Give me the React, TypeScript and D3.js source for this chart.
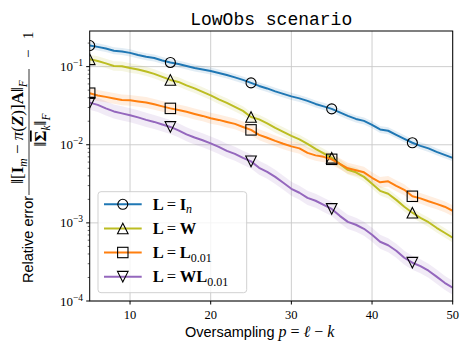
import React from 'react';
import * as d3 from 'd3';

// oversampling p = l - k
const oversampling = d3.range(5, 51);

// relative error, one value per p (5..50)
const errIn = [0.186, 0.179, 0.171, 0.160, 0.156, 0.150, 0.141, 0.134, 0.129, 0.120,
  0.113, 0.108, 0.102, 0.0962, 0.0921, 0.0881, 0.0830, 0.0783, 0.0728, 0.0676,
  0.0619, 0.0566, 0.0526, 0.0482, 0.0448, 0.0416, 0.0392, 0.0364, 0.0333, 0.0310,
  0.0288, 0.0259, 0.0234, 0.0214, 0.0202, 0.0180, 0.0157, 0.0151, 0.0134, 0.0119,
  0.0106, 0.00968, 0.00899, 0.00811, 0.00743, 0.00680];
const errW = [0.124, 0.118, 0.110, 0.102, 0.101, 0.0962, 0.0921, 0.0868, 0.0807, 0.0738,
  0.0676, 0.0637, 0.0575, 0.0526, 0.0475, 0.0428, 0.0381, 0.0343, 0.0305, 0.0271,
  0.0227, 0.0211, 0.0188, 0.0164, 0.0146, 0.0130, 0.0117, 0.01027, 0.00887, 0.00776,
  0.00680, 0.00570, 0.00477, 0.00444, 0.00388, 0.00316, 0.00257, 0.00236, 0.00197, 0.00161,
  0.00135, 0.00116, 0.00102, 0.000865, 0.000747, 0.000645];
const errL = [0.0457, 0.0428, 0.0410, 0.0392, 0.0375, 0.0370, 0.0359, 0.0348, 0.0329, 0.0310,
  0.0292, 0.0279, 0.0264, 0.0248, 0.0234, 0.0218, 0.0208, 0.0196, 0.0185, 0.0169,
  0.0155, 0.0134, 0.0123, 0.0112, 0.0103, 0.00954, 0.00899, 0.00788, 0.00731, 0.00700,
  0.00651, 0.00570, 0.00499, 0.00471, 0.00444, 0.00378, 0.00330, 0.00340, 0.00298, 0.00265,
  0.00219, 0.00206, 0.00189, 0.00175, 0.00161, 0.00143];
const errWL = [0.0346, 0.0324, 0.0292, 0.0267, 0.0252, 0.0238, 0.0224, 0.0208, 0.0196, 0.0182,
  0.0169, 0.0153, 0.0136, 0.0124, 0.0114, 0.0104, 0.00940, 0.00836, 0.00765, 0.00680,
  0.00613, 0.00507, 0.00450, 0.00388, 0.00326, 0.00273, 0.00243, 0.00209, 0.00192, 0.00170,
  0.00151, 0.00123, 0.00103, 0.000946, 0.000840, 0.000705, 0.000573, 0.000517, 0.000440, 0.000358,
  0.000309, 0.000279, 0.000244, 0.000205, 0.000171, 0.000148];

// half width of the shaded band, in decades
const spreads = [0.045, 0.06, 0.07, 0.09];

const markerAt = [5, 15, 25, 35, 45];
const xTicks = [10, 20, 30, 40, 50];
const yExps = [-4, -3, -2, -1];

const series = [
  { key: 'In', values: errIn, color: '#1f77b4', marker: 'circle', spread: spreads[0] },
  { key: 'W', values: errW, color: '#bcbd22', marker: 'up', spread: spreads[1] },
  { key: 'L', values: errL, color: '#ff7f0e', marker: 'square', spread: spreads[2] },
  { key: 'WL', values: errWL, color: '#9467bd', marker: 'down', spread: spreads[3] },
];

const W = 467, H = 349;
const left = 89.7, right = 452.7, top = 31, bottom = 301;

const serif = '"Liberation Serif", "DejaVu Serif", serif';
const sans = '"Liberation Sans", "DejaVu Sans", sans-serif';

const x = d3.scaleLinear().domain([5, 50]).range([left, right]);
const y = d3.scaleLog().domain([1e-4, Math.pow(10, -0.544)]).range([bottom, top]);

function Marker({ kind, cx, cy }: { kind: string; cx: number; cy: number }) {
  const s = 5.3;
  const st = { fill: 'none', stroke: '#000', strokeWidth: 1.1 };
  if (kind === 'circle') return <circle cx={cx} cy={cy} r={5} {...st} />;
  if (kind === 'square') return <rect x={cx - 5.2} y={cy - 5.2} width={10.4} height={10.4} {...st} />;
  if (kind === 'up') return <path d={`M${cx},${cy - s}L${cx - s},${cy + s}L${cx + s},${cy + s}Z`} {...st} />;
  return <path d={`M${cx},${cy + s}L${cx - s},${cy - s}L${cx + s},${cy - s}Z`} {...st} />;
}

function LegendLabel({ k, tx, ty }: { k: string; tx: number; ty: number }) {
  const fs = 16.5;
  const sub = { fontSize: 12, fontWeight: 'normal' as const };
  let rhs: React.ReactNode = null;
  if (k === 'In') rhs = (<><tspan fontWeight="bold">I</tspan><tspan dy={3.5} {...sub} fontStyle="italic">n</tspan></>);
  if (k === 'W') rhs = <tspan fontWeight="bold">W</tspan>;
  if (k === 'L') rhs = (<><tspan fontWeight="bold">L</tspan><tspan dy={3.5} {...sub}>0.01</tspan></>);
  if (k === 'WL') rhs = (<><tspan fontWeight="bold">WL</tspan><tspan dy={3.5} {...sub}>0.01</tspan></>);
  return (
    <g fontFamily={serif} fontSize={fs} fill="#000">
      <text x={tx} y={ty} fontWeight="bold">L</text>
      <text x={tx + 14} y={ty}>=</text>
      <text x={tx + 27} y={ty}>{rhs}</text>
    </g>
  );
}

export default function App() {
  const line = d3.line<number>().x((_, i) => x(oversampling[i])).y(d => y(d));
  const band = (vals: number[], s: number) =>
    d3.area<number>()
      .x((_, i) => x(oversampling[i]))
      .y0(d => y(d * Math.pow(10, -s)))
      .y1(d => y(d * Math.pow(10, s)))(vals) || '';

  const minors: number[] = [];
  yExps.forEach(e => {
    for (let m = 2; m <= 9; m++) minors.push(m * Math.pow(10, e));
  });
  const [d0, d1] = y.domain();
  const minorsIn = minors.filter(v => v >= d0 && v <= d1);

  const legendX = 98, legendY = 191.7, legendW = 148.7, legendH = 101;
  const rowY = [204.3, 228.5, 252.5, 276.7];

  return (
    <svg width={W} height={H} style={{ position: 'absolute', left: 0, top: 0, background: '#fff' }}>
      <defs>
        <clipPath id="plot"><rect x={left} y={top} width={right - left} height={bottom - top} /></clipPath>
      </defs>
      {/* grid */}
      <g stroke="#c8c8c8" strokeWidth={0.9}>
        {xTicks.map(t => <line key={t} x1={x(t)} x2={x(t)} y1={top} y2={bottom} />)}
        {yExps.map(e => <line key={e} x1={left} x2={right} y1={y(Math.pow(10, e))} y2={y(Math.pow(10, e))} />)}
      </g>
      <g clipPath="url(#plot)">
        {series.map(s => (
          <path key={s.key + 'b'} d={band(s.values, s.spread)} fill={s.color} opacity={0.13} />
        ))}
        {series.map(s => (
          <g key={s.key}>
            <path d={line(s.values) || ''} fill="none" stroke={s.color} strokeWidth={2} strokeLinejoin="round" />
            {markerAt.map(p => (
              <Marker key={p} kind={s.marker} cx={x(p)} cy={y(s.values[oversampling.indexOf(p)])} />
            ))}
          </g>
        ))}
      </g>
      {/* frame */}
      <rect x={left} y={top} width={right - left} height={bottom - top} fill="none" stroke="#000" strokeWidth={1} />
      {/* x ticks */}
      <g>
        {xTicks.map(t => (
          <g key={t}>
            <line x1={x(t)} x2={x(t)} y1={bottom} y2={bottom + 3.5} stroke="#000" />
            <text x={x(t)} y={319} textAnchor="middle" fontFamily={serif} fontSize={12.5}>{t}</text>
          </g>
        ))}
      </g>
      {/* y ticks */}
      <g>
        {minorsIn.map(v => (
          <line key={v} x1={left - 2} x2={left} y1={y(v)} y2={y(v)} stroke="#000" strokeWidth={0.6} />
        ))}
        {yExps.map(e => (
          <g key={e}>
            <line x1={left - 3.5} x2={left} y1={y(Math.pow(10, e))} y2={y(Math.pow(10, e))} stroke="#000" />
            <text x={83} y={y(Math.pow(10, e)) + 4.5} textAnchor="end" fontFamily={serif} fontSize={13}>
              10<tspan dy={-5} fontSize={9.5}>{'\u2212' + Math.abs(e)}</tspan>
            </text>
          </g>
        ))}
      </g>
      {/* title */}
      <text x={(left + right) / 2} y={25} textAnchor="middle" fontFamily='"Liberation Mono", "DejaVu Sans Mono", monospace' fontSize={18}>LowObs scenario</text>
      {/* x label */}
      <text x={185} y={337} fontFamily={sans} fontSize={14.5}>
        Oversampling <tspan fontFamily={serif} fontStyle="italic" fontSize={16}>p</tspan>
        <tspan fontFamily={serif} fontSize={16}> = </tspan>
        <tspan fontFamily={serif} fontStyle="italic" fontSize={16}>ℓ</tspan>
        <tspan fontFamily={serif} fontSize={16}> − </tspan>
        <tspan fontFamily={serif} fontStyle="italic" fontSize={16}>k</tspan>
      </text>
      {/* y label */}
      <g transform="rotate(-90)">
        <text x={-283} y={33} fontFamily={sans} fontSize={14.5}>Relative error</text>
        <text x={-132} y={23} textAnchor="middle" fontFamily={serif} fontSize={17}>
          ‖[<tspan fontWeight="bold">I</tspan><tspan dy={3.5} fontSize={11.5} fontStyle="italic">m</tspan>
          <tspan dy={-3.5}> − </tspan><tspan fontStyle="italic">π</tspan>(<tspan fontWeight="bold" fontStyle="italic">Z</tspan>)]<tspan fontWeight="bold">A</tspan>‖<tspan dy={3.5} fontSize={11.5} fontStyle="italic">F</tspan>
        </text>
        <line x1={-195} x2={-69} y1={29} y2={29} stroke="#000" strokeWidth={0.8} />
        <text x={-130} y={46} textAnchor="middle" fontFamily={serif} fontSize={17}>
          ‖<tspan fontWeight="bold" textDecoration="overline">Σ</tspan><tspan dy={3.5} fontSize={11.5} fontStyle="italic">k</tspan><tspan dy={-3.5}>‖</tspan><tspan dy={3.5} fontSize={11.5} fontStyle="italic">F</tspan>
        </text>
        <text x={-58} y={33} fontFamily={serif} fontSize={15}>−</text>
        <text x={-39} y={33} fontFamily={serif} fontSize={15}>1</text>
      </g>
      {/* legend */}
      <rect x={legendX} y={legendY} width={legendW} height={legendH} rx={3} fill="#fff" fillOpacity={0.8} stroke="#cccccc" strokeWidth={0.9} />
      {series.map((s, i) => (
        <g key={s.key}>
          <line x1={104} x2={141.7} y1={rowY[i]} y2={rowY[i]} stroke={s.color} strokeWidth={2} />
          <Marker kind={s.marker} cx={122.8} cy={rowY[i]} />
          <LegendLabel k={s.key} tx={152.7} ty={rowY[i] + 5.5} />
        </g>
      ))}
    </svg>
  );
}
